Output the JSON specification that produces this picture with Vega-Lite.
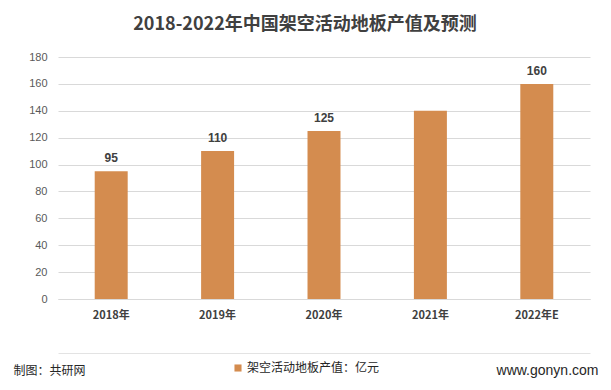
{
  "$schema": "https://vega.github.io/schema/vega-lite/v6.json",
  "autosize": "none",
  "width": 532,
  "height": 242,
  "padding": {"left": 58, "top": 57, "right": 21, "bottom": 91},
  "background": "white",
  "title": {
    "text": "2018-2022年中国架空活动地板产值及预测",
    "font": "Noto Sans CJK SC",
    "fontSize": 18,
    "fontWeight": "bold",
    "color": "#404040",
    "anchor": "middle",
    "dx": -19,
    "offset": 17
  },
  "data": {
    "values": [
      {"year": "2018年", "value": 95},
      {"year": "2019年", "value": 110},
      {"year": "2020年", "value": 125},
      {"year": "2021年", "value": 140},
      {"year": "2022年E", "value": 160}
    ]
  },
  "config": {"view": {"stroke": null}},
  "resolve": {"axis": {"x": "independent", "y": "independent"}},
  "layer": [
    {
      "mark": {"type": "bar", "color": "#d48c4f"},
      "encoding": {
        "x": {
          "field": "year",
          "type": "nominal",
          "sort": null,
          "scale": {"paddingInner": 0.69, "paddingOuter": 0.345},
          "axis": {
            "title": "制图：共研网",
            "titleFont": "Noto Sans CJK SC",
            "titleFontSize": 12,
            "titleFontWeight": "normal",
            "titleColor": "#262626",
            "titleAnchor": "start",
            "titleAlign": "left",
            "titleBaseline": "middle",
            "titleX": -45,
            "titleY": 71,
            "labelAngle": 0,
            "labelFont": "Noto Sans CJK SC",
            "labelFontSize": 11,
            "labelFontWeight": "bold",
            "labelColor": "#404040",
            "labelPadding": 10,
            "ticks": false,
            "domainColor": "#d9d9d9"
          }
        },
        "y": {
          "field": "value",
          "type": "quantitative",
          "scale": {"domain": [0, 180]},
          "axis": {
            "values": [0, 20, 40, 60, 80, 100, 120, 140, 160, 180],
            "labelOverlap": false,
            "title": "www.gonyn.com",
            "titleFont": "Liberation Sans",
            "titleFontSize": 14,
            "titleFontWeight": "normal",
            "titleColor": "#262626",
            "titleAngle": 0,
            "titleAlign": "right",
            "titleBaseline": "middle",
            "titleX": 540,
            "titleY": 313,
            "labelFont": "Liberation Sans",
            "labelFontSize": 11,
            "labelColor": "#595959",
            "labelPadding": 11,
            "ticks": false,
            "domain": false,
            "gridColor": "#d9d9d9"
          }
        },
        "color": {
          "datum": "架空活动地板产值：亿元",
          "scale": {"range": ["#d48c4f"]},
          "legend": {
            "title": null,
            "orient": "none",
            "legendX": 174,
            "legendY": 305,
            "symbolType": "square",
            "symbolSize": 50,
            "labelFont": "Noto Sans CJK SC",
            "labelFontSize": 12,
            "labelColor": "#262626",
            "labelOffset": 3
          }
        }
      }
    },
    {
      "transform": [{"filter": "datum.year != '2021年'"}],
      "mark": {"type": "text", "baseline": "bottom", "dy": -6, "font": "Liberation Sans", "fontSize": 12, "fontWeight": "bold", "color": "#404040"},
      "encoding": {
        "x": {
          "field": "year",
          "type": "nominal",
          "sort": null,
          "axis": {"orient": "bottom", "offset": 54, "labels": false, "ticks": false, "title": null, "domainColor": "#e3e3e3"}
        },
        "y": {"field": "value", "type": "quantitative", "axis": null},
        "text": {"field": "value", "type": "quantitative"}
      }
    }
  ]
}
